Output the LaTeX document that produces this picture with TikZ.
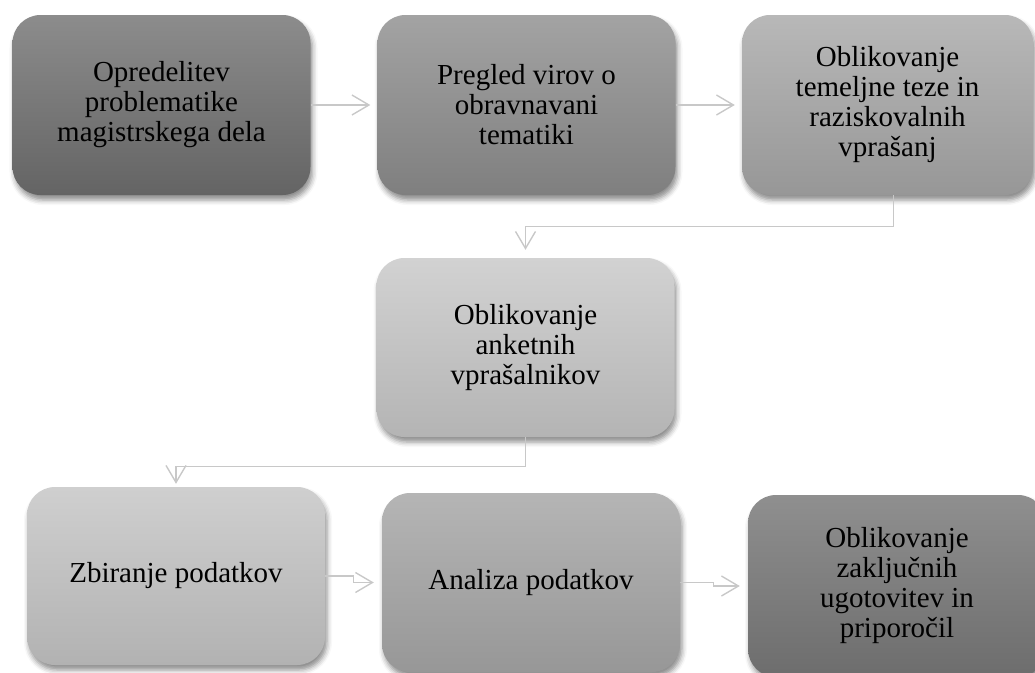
\documentclass[tikz,border=0pt]{standalone}
\usepackage{fontspec}
\setmainfont{Liberation Serif}
\usetikzlibrary{arrows.meta,shadows.blur}
\definecolor{linegray}{HTML}{C8C8C8}
\begin{document}
\begin{tikzpicture}[x=1pt,y=-1pt,
  stepbox/.style={rounded corners=28pt, minimum width=298pt, minimum height=180pt,
    align=center, inner sep=0pt, font=\fontsize{29}{30}\selectfont,
    blur shadow={shadow xshift=2pt, shadow yshift=-5pt, shadow blur radius=5pt, shadow opacity=45}},
  conn/.style={draw=linegray, line width=1.4pt, -{Straight Barb[length=17pt,width=20pt]}}]
\useasboundingbox (0,0) rectangle (1035,672);
\clip (0,0) rectangle (1035,672);
\node[stepbox, top color={rgb,255:red,140;green,140;blue,140}, bottom color={rgb,255:red,100;green,100;blue,100}] (b1) at (161.5,105) {Opredelitev\\problematike\\magistrskega dela};
\node[stepbox, top color={rgb,255:red,163;green,163;blue,163}, bottom color={rgb,255:red,127;green,127;blue,127}] (b2) at (526.5,105) {Pregled virov o\\obravnavani\\tematiki};
\node[stepbox, minimum width=291pt, top color={rgb,255:red,184;green,184;blue,184}, bottom color={rgb,255:red,151;green,151;blue,151}] (b3) at (887.5,105) {Oblikovanje\\temeljne teze in\\raziskovalnih\\vprašanj};
\node[stepbox, minimum height=179pt, top color={rgb,255:red,210;green,210;blue,210}, bottom color={rgb,255:red,180;green,180;blue,180}] (b4) at (525.5,347.5) {Oblikovanje\\anketnih\\vprašalnikov};
\node[stepbox, minimum height=178pt, top color={rgb,255:red,207;green,207;blue,207}, bottom color={rgb,255:red,178;green,178;blue,178}] (b5) at (176,576) {Zbiranje podatkov};
\node[stepbox, minimum height=179pt, top color={rgb,255:red,181;green,181;blue,181}, bottom color={rgb,255:red,151;green,151;blue,151}] (b6) at (531,582.5) {Analiza podatkov};
\node[stepbox, minimum height=182pt, top color={rgb,255:red,143;green,143;blue,143}, bottom color={rgb,255:red,109;green,109;blue,109}] (b7) at (897,586) {Oblikovanje\\zaključnih\\ugotovitev in\\priporočil};
\draw[conn, shorten >=7pt] (b1.east) -- (b2.west);
\draw[conn, shorten >=7pt] (b2.east) -- (b3.west);
\draw[conn, shorten >=8pt] ([xshift=6pt]b3.south) -- ++(0,31) -| (b4.north);
\draw[conn, shorten >=3pt] (b4.south) -- ++(0,29) -| (b5.north);
\draw[conn, shorten >=8pt] (b5.east) -- ++(28,0) |- (b6.west);
\draw[conn, shorten >=8pt] (b6.east) -- ++(33,0) |- (b7.west);
\end{tikzpicture}
\end{document}
